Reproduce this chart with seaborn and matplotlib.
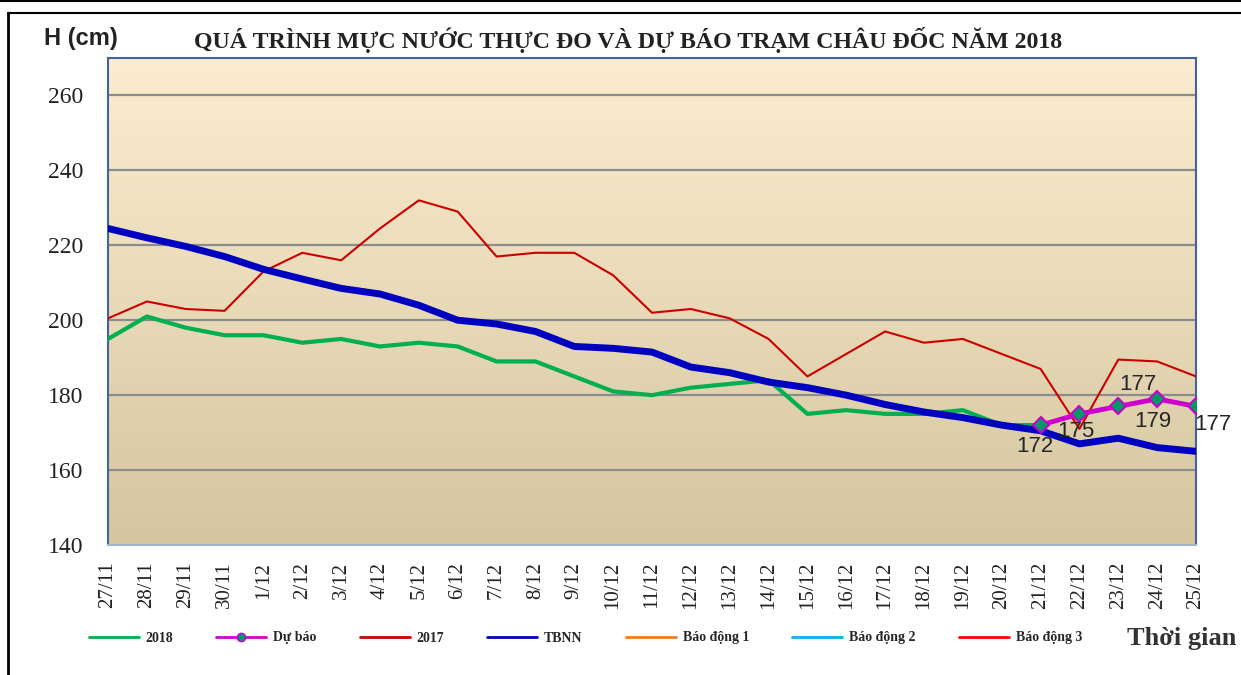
import numpy as np
import pandas as pd
import matplotlib.pyplot as plt
import seaborn as sns
from matplotlib.lines import Line2D


DATES = ["27/11", "28/11", "29/11", "30/11"] + [f"{d}/12" for d in range(1, 26)]

# muc nuoc 2018 (thuc do), 27/11 -> 21/12
H_2018 = [195, 201, 198, 196, 196, 194, 195, 193, 194, 193, 189, 189, 185,
          181, 180, 182, 183, 184, 175, 176, 175, 175, 176, 172, 172]
# du bao 21/12 -> 25/12
FORECAST_DATES = ["21/12", "22/12", "23/12", "24/12", "25/12"]
FORECAST = [172, 175, 177, 179, 177]
H_2017 = [200.5, 205, 203, 202.5, 213, 218, 216, 224.5, 232, 229, 217, 218, 218,
          212, 202, 203, 200.5, 195, 185, 191, 197, 194, 195, 191, 187, 171,
          189.5, 189, 185]
TBNN = [224.5, 222, 219.7, 217, 213.6, 211, 208.5, 207, 204, 200, 199, 197, 193,
        192.5, 191.5, 187.5, 186, 183.5, 182, 180, 177.5, 175.5, 174, 172, 170.5,
        167, 168.5, 166, 165]

Y_TICKS = [140, 160, 180, 200, 220, 240, 260]
TITLE = "QUÁ TRÌNH MỰC NƯỚC THỰC ĐO VÀ DỰ BÁO TRẠM CHÂU ĐỐC NĂM 2018"

# offsets (pixels) cho nhan du bao
LABEL_OFFSETS = [(-6, -21), (-4, -18), (20, 22), (-4, -23), (17, -18)]

SERIF = "Liberation Serif"
SANS = "Liberation Sans"


def main():
    sns.set_theme(style="white")
    plt.rcParams["font.family"] = [SERIF, "DejaVu Sans"]

    fig = plt.figure(figsize=(12.41, 6.75), dpi=100)
    ax = fig.add_axes([108 / 1241, 1 - 545 / 675, (1196 - 108) / 1241, (545 - 58) / 675])

    pos = {d: i for i, d in enumerate(DATES)}
    x_all = np.arange(len(DATES))

    # nen gradient
    grad = np.linspace(0, 1, 256).reshape(-1, 1)
    top = np.array([252, 237, 208]) / 255
    bot = np.array([213, 198, 160]) / 255
    img = top * (1 - grad[..., None]) + bot * grad[..., None]
    ax.imshow(img, extent=[0, 1, 0, 1], transform=ax.transAxes, aspect="auto", zorder=0)

    for yv in Y_TICKS[1:]:
        ax.axhline(yv, color="#8c8c8c", lw=1.6, zorder=1)

    sns.lineplot(x=x_all, y=H_2017, ax=ax, color="#CC0000", lw=1.5, zorder=3)
    sns.lineplot(x=x_all[:len(H_2018)], y=H_2018, ax=ax, color="#00B050", lw=3, zorder=4)
    sns.lineplot(x=x_all, y=TBNN, ax=ax, color="#0000C0", lw=5, zorder=5)
    fx = [pos[d] for d in FORECAST_DATES]
    sns.lineplot(x=fx, y=FORECAST, ax=ax, color="#CC00CC", lw=3.5, zorder=6,
                 marker="D", markersize=8, markerfacecolor="#009966",
                 markeredgecolor="#CC00CC", markeredgewidth=1.5)
    for xv, yv, off in zip(fx, FORECAST, LABEL_OFFSETS):
        ax.annotate(str(yv), (xv, yv), xytext=off, textcoords="offset pixels",
                    ha="center", va="center", fontsize=16, family=SANS, zorder=7,
                    annotation_clip=False)

    ax.set_xlim(0, len(DATES) - 1)
    ax.set_ylim(140, 270)
    ax.set_yticks(Y_TICKS)
    ax.set_yticklabels([str(v) for v in Y_TICKS], fontsize=17, color="#222222")
    ax.set_xticks(x_all)
    ax.set_xticklabels(DATES, rotation=90, fontsize=15, color="#222222")
    ax.tick_params(axis="y", length=0, pad=18)
    ax.tick_params(axis="x", length=0, pad=12)
    ax.set_xlabel("")
    ax.set_ylabel("")
    for sp in ax.spines.values():
        sp.set_color("#41659b")
        sp.set_linewidth(1.5)
    ax.spines["bottom"].set_color("#9fb3cc")

    fig.text(81 / 1241, 1 - 38 / 675, "H (cm)", ha="center", va="center",
             fontsize=17, fontweight="bold", family=SANS, color="#222222")
    fig.text(628 / 1241, 1 - 40 / 675, TITLE, ha="center", va="center",
             fontsize=17.2, fontweight="bold", color="#222222")
    fig.text(1182 / 1241, 1 - 638 / 675, "Thời gian", ha="center", va="center",
             fontsize=19, fontweight="bold", color="#333333")

    handles = [
        Line2D([], [], color="#00B050", lw=2),
        Line2D([], [], color="#CC00CC", lw=2, marker="o", markersize=6,
               markerfacecolor="#009966", markeredgecolor="#CC00CC"),
        Line2D([], [], color="#CC0000", lw=2),
        Line2D([], [], color="#0000C0", lw=2),
        Line2D([], [], color="#F07C22", lw=2),
        Line2D([], [], color="#00B0F0", lw=2),
        Line2D([], [], color="#FF0000", lw=2),
    ]
    labels = ["2018", "Dự báo", "2017", "TBNN", "Báo động 1", "Báo động 2", "Báo động 3"]
    fig.legend(handles, labels, loc="center left", bbox_to_anchor=(76 / 1241, 1 - 638 / 675),
               ncol=7, frameon=False, handlelength=3.6, handletextpad=0.5,
               columnspacing=3.1, prop={"family": SERIF, "weight": "bold", "size": 10})

    # khung ngoai
    fig.add_artist(Line2D([0, 1], [1 - 1 / 675, 1 - 1 / 675], color="black", lw=1.5))
    fig.add_artist(Line2D([8 / 1241, 1], [1 - 12.5 / 675, 1 - 12.5 / 675], color="black", lw=1.5))
    fig.add_artist(Line2D([8 / 1241, 8 / 1241], [0, 1 - 12.5 / 675], color="black", lw=2))

    fig.savefig("out.png", dpi=100, facecolor="white")
    plt.close(fig)


if __name__ == "__main__":
    main()
